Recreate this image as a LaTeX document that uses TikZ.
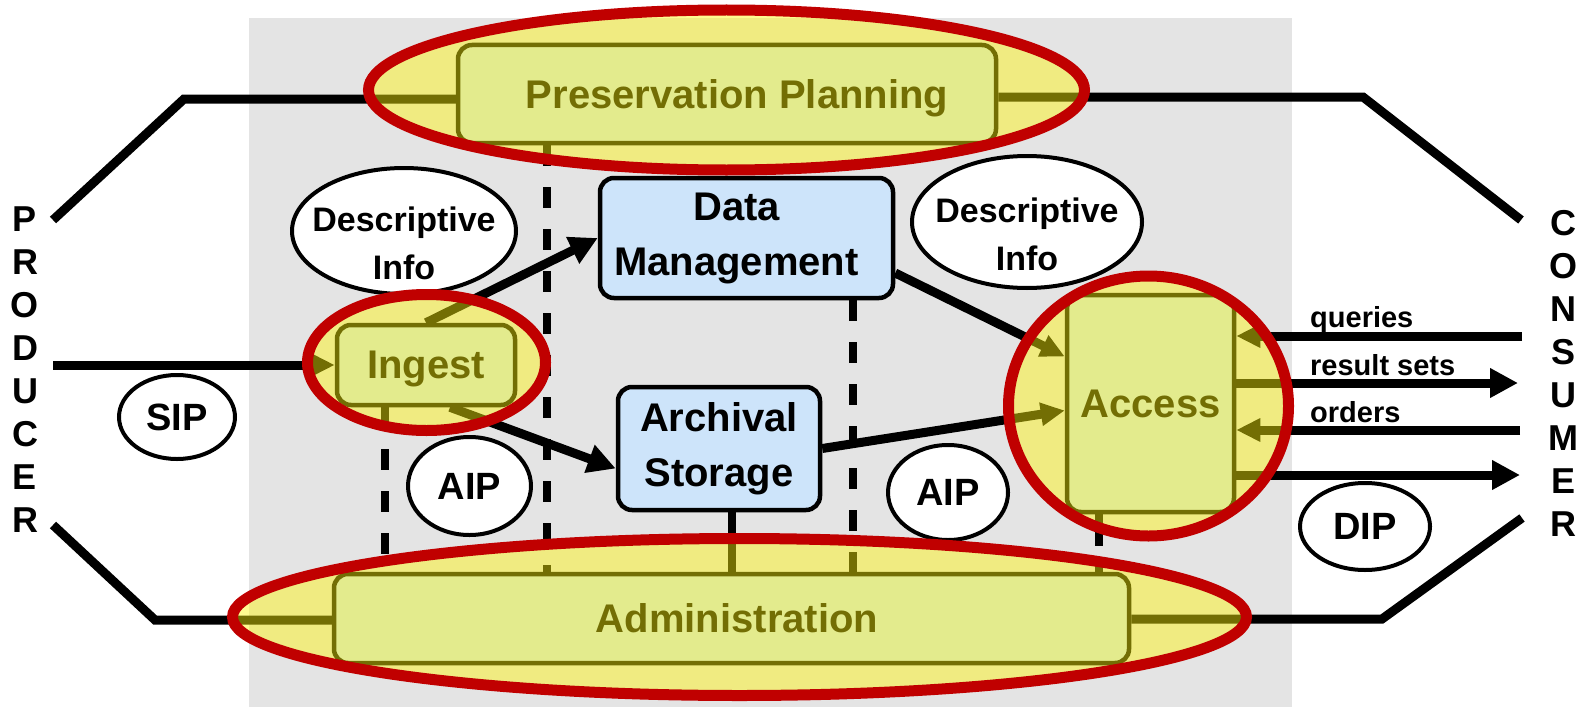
\documentclass[tikz,border=0pt]{standalone}
\usepackage{fontspec}
\setmainfont{Liberation Sans}
\usetikzlibrary{arrows.meta,calc,shapes.geometric}
\definecolor{bgray}{RGB}{228,228,228}
\definecolor{lblue}{RGB}{205,228,250}
\definecolor{hly}{RGB}{255,245,10}
\definecolor{hlred}{RGB}{192,0,0}
\begin{document}
\begin{tikzpicture}[x=1pt,y=-1pt,
  f40/.style={font=\fontsize{40}{55}\selectfont\bfseries},
  f38/.style={font=\fontsize{38}{44}\selectfont\bfseries},
  f36/.style={font=\fontsize{36}{43}\selectfont\bfseries},
  f34/.style={font=\fontsize{34}{48}\selectfont\bfseries},
  f29/.style={font=\fontsize{29}{34}\selectfont\bfseries},
  box/.style={draw=black, line width=4.5pt, fill=lblue, rounded corners=14pt, inner sep=0pt, f40},
  bubble/.style={ellipse, draw=black, line width=4pt, fill=white, inner sep=0pt, f38},
  conn/.style={line width=9pt, draw=black},
  dashl/.style={line width=8pt, draw=black, dash pattern=on 21pt off 21pt},
  stub/.style={line width=8pt, draw=black},
  arr/.style={-{Triangle[length=28pt,width=28pt]}},
  arrs/.style={-{Triangle[length=24pt,width=22pt]}},
  hl/.style={ellipse, draw=hlred, line width=11pt, fill=hly, fill opacity=0.45, inner sep=0pt}
]
\useasboundingbox (0,0) rectangle (1584,709);
\fill[bgray] (249,18) rectangle (1292,707);

% boxes
\node[box, minimum width=538pt, minimum height=98pt, text depth=0pt] (pp) at (727,94) {\hspace{20pt}Preservation Planning};
\node[box, minimum width=178pt, minimum height=80pt, text depth=0pt] (ingest) at (426,365) {Ingest};
\node[box, align=center, minimum width=293pt, minimum height=120pt] (dm) at (746.5,238) {Data\hspace*{20pt}\\Management\hspace*{20pt}};
\node[box, align=center, minimum width=202pt, minimum height=123pt] (arch) at (719,448.5) {Archival\\Storage};
\node[box, minimum width=167pt, minimum height=217pt] (access) at (1150.5,403.5) {Access};
\node[box, minimum width=795pt, minimum height=89pt, text depth=0pt] (admin) at (731.5,618.5) {\hspace{11pt}Administration};

% bubbles
\node[bubble, minimum width=224pt, minimum height=126pt,
  label={[f34, align=center, yshift=-12pt]center:Descriptive\\Info}] (di1) at (404,231) {};
\node[bubble, minimum width=230pt, minimum height=132pt,
  label={[f34, align=center, yshift=-12pt]center:Descriptive\\Info}] (di2) at (1027,222) {};
\node[bubble, minimum width=116pt, minimum height=84pt] (sip) at (177,417) {SIP};
\node[bubble, minimum width=123pt, minimum height=98pt] (aip1) at (469.5,486) {AIP};
\node[bubble, minimum width=120pt, minimum height=95pt] (aip2) at (948,492.5) {AIP};
\node[bubble, minimum width=130pt, minimum height=87pt] (dip) at (1365,526.5) {DIP};

% side labels
\node[f36, align=center, anchor=north, inner sep=0pt] (prod) at (25,207) {P\\R\\O\\D\\U\\C\\E\\R};
\node[f36, align=center, anchor=north, inner sep=0pt] (cons) at (1563,210) {C\\O\\N\\S\\U\\M\\E\\R};

% free ends
\coordinate (pl1) at (53,220);
\coordinate (pl2) at (184,99);
\coordinate (pr2) at (1363,97);
\coordinate (pr1) at (1521,220);
\coordinate (al1) at (53,525);
\coordinate (al2) at (155,620);
\coordinate (ar2) at (1382,619);
\coordinate (ar1) at (1522,518);
\coordinate (sipstart) at (53,365);
\coordinate (qe) at (1522,336);
\coordinate (re) at (1518,383);
\coordinate (oe) at (1520,430);
\coordinate (de) at (1520,475);

% producer / consumer links
\draw[conn] (pl1) -- (pl2) -- (pl2 -| pp.west);
\draw[conn] (pp.east |- pr2) -- (pr2) -- (pr1);
\draw[conn] (al1) -- (al2) -- (al2 -| admin.west);
\draw[conn] (admin.east |- ar2) -- (ar2) -- (ar1);
\draw[conn, arrs] (sipstart) -- (ingest.west);

% internal flows
\draw[conn, arr] (ingest.north) -- (dm.west);
\draw[conn, arr] ($(ingest.south)+(24,0)$) -- ($(arch.west)+(0,20)$);
\draw[conn, arrs] ($(dm.east)+(0,35)$) -- ($(access.west)+(0,-47)$);
\draw[conn, arrs] (arch.east) -- ($(access.west)+(0,7)$);

% consumer flows
\draw[conn, arrs] (qe) -- (qe -| access.east);
\draw[conn, arr] (re -| access.east) -- (re);
\draw[conn, arrs] (oe) -- (oe -| access.east);
\draw[conn, arr] (de -| access.east) -- (de);
\node[f29, anchor=base west, inner sep=0pt] (lq) at (1310,327) {queries};
\node[f29, anchor=base west, inner sep=0pt] (lr) at (1310,375) {result sets};
\node[f29, anchor=base west, inner sep=0pt] (lo) at (1310,422) {orders};

% links to administration
\draw[dashl] (pp.south west) ++(91,0) coordinate (v1) -- (v1 |- admin.north);
\draw[dashl] (ingest.south west) ++(50,0) coordinate (v2) -- (v2 |- admin.north);
\draw[dashl] (dm.south west) ++(255,0) coordinate (v3) -- (v3 |- admin.north);
\draw[stub] (arch.south) ++(13,0) coordinate (v4) -- (v4 |- admin.north);
\draw[stub, dash pattern=on 32pt off 17pt on 40pt] (access.south) ++(-51.5,0) coordinate (v5) -- (v5 |- admin.north);

% highlights
\node[hl, minimum width=716pt, minimum height=160pt] (hlpp) at (726.5,90) {};
\node[hl, minimum width=238pt, minimum height=136pt] (hling) at (426.5,362.5) {};
\node[hl, minimum width=280pt, minimum height=260pt] (hlacc) at (1148.5,406) {};
\node[hl, minimum width=1014pt, minimum height=157pt] (hladm) at (739.5,617) {};
\end{tikzpicture}
\end{document}
